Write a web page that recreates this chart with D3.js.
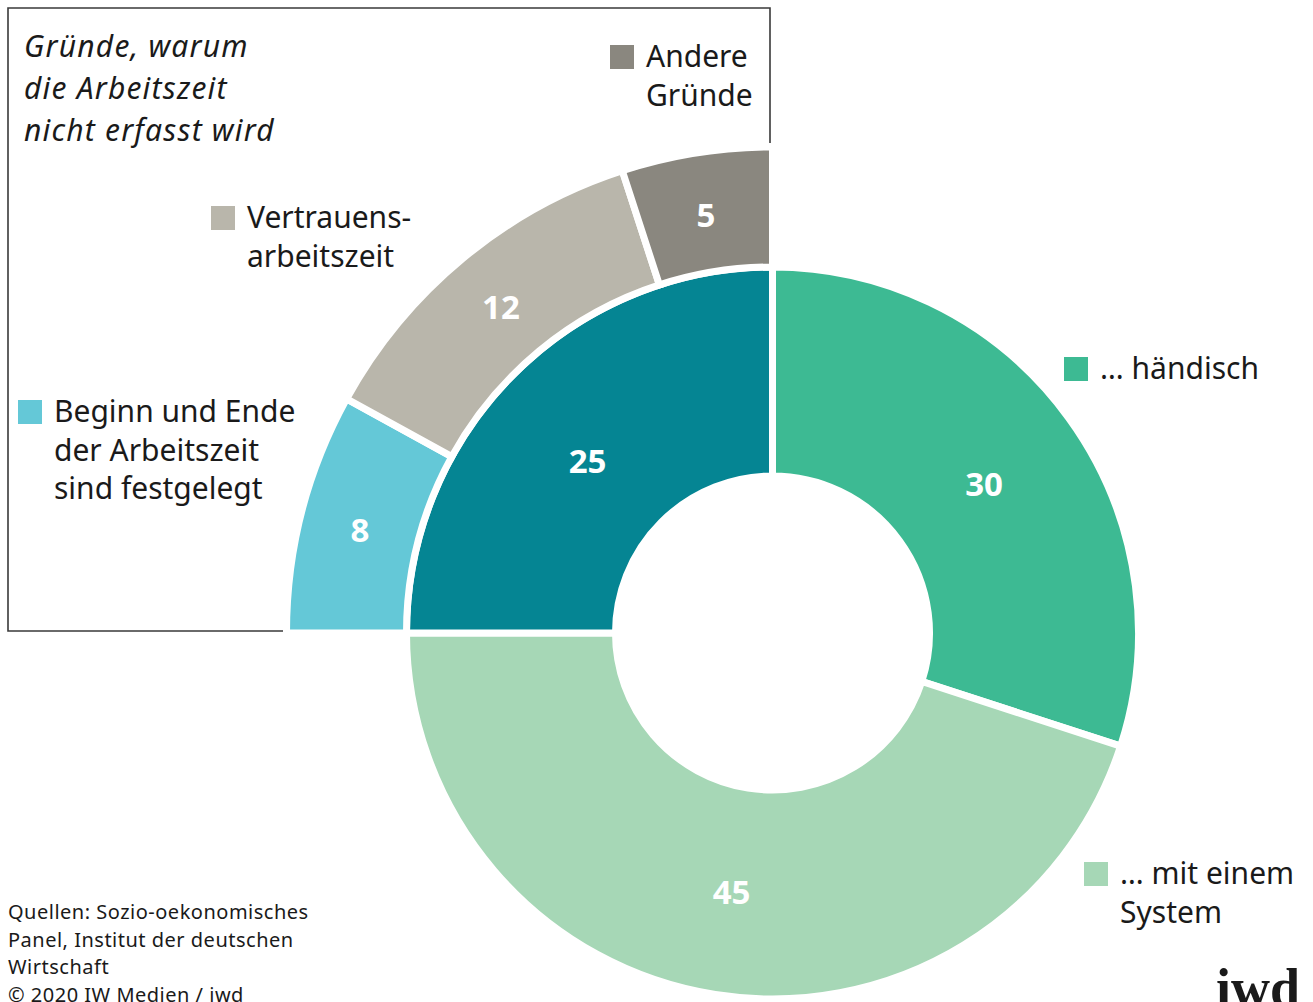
<!DOCTYPE html>
<html>
<head>
<meta charset="utf-8">
<script src="https://cdn.jsdelivr.net/npm/d3@7"></script>
<style>
  body { margin: 0; background: #fff; }
  svg { display: block; }
</style>
</head>
<body>
<div id="chart"></div>
<script>
// inner ring: how working time is recorded (percent)
const erfassungNamen = ['händisch', 'System', 'nicht erfasst'];
const erfassungWerte = [30, 45, 25];
const erfassungFarben = ['#3dba93', '#a6d7b6', '#058593'];

// outer ring: reasons why it is not recorded
const gruendeNamen = ['Beginn/Ende festgelegt', 'Vertrauensarbeitszeit', 'Andere Gründe'];
const gruendeWerte = [8, 12, 5];
const gruendeFarben = ['#64c8d7', '#b9b6ab', '#8a877f'];

const titelZeilen = ['Gründe, warum', 'die Arbeitszeit', 'nicht erfasst wird'];
const quelleZeilen = ['Quellen: Sozio-oekonomisches', 'Panel, Institut der deutschen', 'Wirtschaft', '© 2020 IW Medien / iwd'];

// legend entries: lines + color, placed by hand like the original
const legende = [
  { zeilen: ['Andere', 'Gründe'], farbe: gruendeFarben[2], x: 610, y: 45 },
  { zeilen: ['Vertrauens-', 'arbeitszeit'], farbe: gruendeFarben[1], x: 211, y: 206 },
  { zeilen: ['Beginn und Ende', 'der Arbeitszeit', 'sind festgelegt'], farbe: gruendeFarben[0], x: 18, y: 400 },
  { zeilen: ['… händisch'], farbe: erfassungFarben[0], x: 1064, y: 357 },
  { zeilen: ['… mit einem', 'System'], farbe: erfassungFarben[1], x: 1084, y: 862 }
];

const width = 1313, height = 1002;
const center = { x: 772.5, y: 633 };
const font = '"Noto Sans", "Open Sans", sans-serif';

const svg = d3.select('#chart').append('svg')
  .attr('width', width)
  .attr('height', height);

// frame around the reasons panel
svg.append('path')
  .attr('d', `M283,631 L8,631 L8,8 L770,8 L770,143`)
  .attr('fill', 'none')
  .attr('stroke', '#3a3a3a')
  .attr('stroke-width', 1.6);

const chart = svg.append('g')
  .attr('transform', `translate(${center.x},${center.y})`);

//inner donut
const pieInnen = d3.pie().sort(null).value(d => d)
  .startAngle(0).endAngle(2 * Math.PI);
const arcInnen = d3.arc().innerRadius(157).outerRadius(366);

const innen = pieInnen(erfassungWerte);
chart.selectAll('path.innen')
  .data(innen)
  .join('path')
  .attr('class', 'innen')
  .attr('d', arcInnen)
  .attr('fill', (d, i) => erfassungFarben[i])
  .attr('stroke', '#fff')
  .attr('stroke-width', 7)
  .attr('stroke-linejoin', 'miter');

// outer ring only over the "nicht erfasst" quadrant
const pieAussen = d3.pie().sort(null).value(d => d)
  .startAngle(innen[2].startAngle).endAngle(innen[2].endAngle);
const arcAussen = d3.arc().innerRadius(366).outerRadius(486);

const aussen = pieAussen(gruendeWerte);
chart.selectAll('path.aussen')
  .data(aussen)
  .join('path')
  .attr('class', 'aussen')
  .attr('d', arcAussen)
  .attr('fill', (d, i) => gruendeFarben[i])
  .attr('stroke', '#fff')
  .attr('stroke-width', 7);

//value labels
const labelStyle = sel => sel
  .attr('text-anchor', 'middle')
  .attr('dominant-baseline', 'central')
  .attr('fill', '#fff')
  .attr('font-family', font)
  .attr('font-weight', 700)
  .attr('font-size', 33);

// the dark slice label sits a bit lower in the original
const innenDy = [4, 0, 12];

chart.selectAll('text.innen')
  .data(innen)
  .join('text')
  .attr('class', 'innen')
  .attr('x', d => arcInnen.centroid(d)[0])
  .attr('y', (d, i) => arcInnen.centroid(d)[1] + innenDy[i])
  .text(d => d.data)
  .call(labelStyle);

chart.selectAll('text.aussen')
  .data(aussen)
  .join('text')
  .attr('class', 'aussen')
  .attr('x', d => arcAussen.centroid(d)[0])
  .attr('y', d => arcAussen.centroid(d)[1] + 2)
  .text(d => d.data)
  .call(labelStyle);

// title in italic
svg.append('text')
  .attr('font-family', font)
  .attr('font-style', 'italic')
  .attr('font-size', 30)
  .attr('letter-spacing', 1.2)
  .attr('fill', '#1a1a1a')
  .selectAll('tspan')
  .data(titelZeilen)
  .join('tspan')
  .attr('x', 24)
  .attr('y', (d, i) => 57 + i * 42)
  .text(d => d);

//legend
const legGruppen = svg.selectAll('g.legende')
  .data(legende)
  .join('g')
  .attr('class', 'legende')
  .attr('transform', d => `translate(${d.x},${d.y})`);

legGruppen.append('rect')
  .attr('width', 24)
  .attr('height', 24)
  .attr('fill', d => d.farbe);

legGruppen.append('text')
  .attr('font-family', font)
  .attr('font-size', 30)
  .attr('fill', '#1a1a1a')
  .selectAll('tspan')
  .data(d => d.zeilen)
  .join('tspan')
  .attr('x', 36)
  .attr('y', (d, i) => 22 + i * 38.5)
  .text(d => d);

// source
svg.append('text')
  .attr('font-family', font)
  .attr('font-size', 20)
  .attr('letter-spacing', 0.5)
  .attr('fill', '#1a1a1a')
  .selectAll('tspan')
  .data(quelleZeilen)
  .join('tspan')
  .attr('x', 8)
  .attr('y', (d, i) => 919 + i * 27.5)
  .text(d => d);

// logo
svg.append('text')
  .attr('x', 1300)
  .attr('y', 1006)
  .attr('text-anchor', 'end')
  .attr('font-family', '"Liberation Serif", "DejaVu Serif", serif')
  .attr('font-weight', 700)
  .attr('font-size', 54)
  .attr('fill', '#1a1a1a')
  .text('iwd');
</script>
</body>
</html>
